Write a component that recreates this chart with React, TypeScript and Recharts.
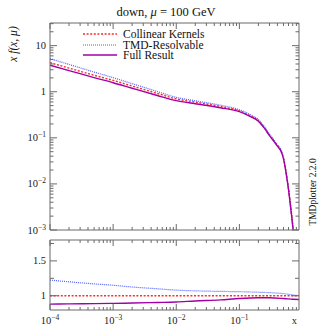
import React from "react";
import { LineChart, Line, XAxis, YAxis, Legend } from "recharts";

// x grid for the main panel
const X_GRID = [
  1e-4, 2e-4, 5e-4, 1e-3, 2e-3, 5e-3, 1e-2, 2e-2, 5e-2, 0.1, 0.15, 0.2, 0.25,
  0.3, 0.35, 0.4, 0.45, 0.5, 0.55, 0.6, 0.65, 0.7, 0.75,
];
const COLLINEAR = [
  4.26, 3.26, 2.28, 1.76, 1.33, 0.92, 0.7, 0.595, 0.48, 0.385, 0.3, 0.237,
  0.165, 0.115, 0.088, 0.068, 0.055, 0.036, 0.0177, 0.0079, 0.0032, 0.00127,
  0.00042,
];
const TMD_RESOLVABLE = [
  5.22, 3.91, 2.67, 2.02, 1.5, 1.01, 0.756, 0.637, 0.51, 0.407, 0.317, 0.249,
  0.173, 0.12, 0.0915, 0.0705, 0.0568, 0.0371, 0.0181, 0.0081, 0.00325,
  0.00128, 0.00042,
];
const FULL_RESULT = [
  3.75, 2.88, 2.02, 1.57, 1.19, 0.83, 0.64, 0.55, 0.45, 0.37, 0.29, 0.23, 0.16,
  0.112, 0.085, 0.066, 0.053, 0.035, 0.017, 0.0075, 0.003, 0.0012, 0.0004,
];

// ratio panel (relative to Collinear Kernels)
const RATIO_X = [
  1e-4, 2e-4, 5e-4, 1e-3, 2e-3, 5e-3, 1e-2, 2e-2, 5e-2, 0.1, 0.2, 0.3, 0.5,
  0.7, 0.88,
];
const RATIO_COLLINEAR = [1, 1, 1, 1, 1, 1, 1, 1, 1, 1, 1, 1, 1, 1, 1];
const RATIO_TMD = [
  1.225, 1.2, 1.17, 1.15, 1.125, 1.1, 1.08, 1.07, 1.062, 1.058, 1.05, 1.044,
  1.03, 1.012, 1.0,
];
const RATIO_FULL = [
  0.88, 0.883, 0.886, 0.89, 0.895, 0.903, 0.91, 0.925, 0.94, 0.96, 0.97, 0.97,
  0.96, 0.95, 0.945,
];

const X_MAJOR = [1e-4, 1e-3, 1e-2, 1e-1];
const RATIO_Y_MAJOR = [1, 1.5];
const RATIO_Y_MINOR = [1.25, 1.75];

const SERIES = [
  { key: "coll", name: "Collinear Kernels", color: "#ff2a2a", dash: "2 1.6", width: 1.4 },
  { key: "tmd", name: "TMD-Resolvable", color: "#5060ff", dash: "1 1", width: 1.2 },
  { key: "full", name: "Full Result", color: "#a000a8", dash: undefined, width: 1.4 },
];

const FONT = "'Liberation Serif', 'DejaVu Serif', serif";
const FRAME = "#6a6a6a";

const X_DOMAIN = [1e-4, 0.88];
const Y_DOMAIN = [1e-3, 31];
const RATIO_DOMAIN = [0.795, 1.8];

// plot box
const LEFT = 50;
const RIGHT = 299;
const MAIN_TOP = 23;
const MAIN_BOTTOM = 230;
const MAIN_H = 236;
const RATIO_TOP = 4;
const RATIO_BOTTOM = 74;
const RATIO_H = 90;

function minorTicks(from: number, to: number, max: number) {
  const out: number[] = [];
  for (let e = from; e <= to; e++) {
    for (let d = 1; d <= 9; d++) {
      const v = d * Math.pow(10, e);
      if (v <= max * 1.0001) out.push(v);
    }
  }
  return out;
}

const X_TICKS = minorTicks(-4, -1, X_DOMAIN[1]);
const Y_TICKS = minorTicks(-3, 1, Y_DOMAIN[1]);

function isDecade(v: number) {
  const l = Math.log10(v);
  return Math.abs(l - Math.round(l)) < 1e-6;
}

function PowLabel({ v, x, y, anchor }: { v: number; x: number; y: number; anchor: string }) {
  const e = Math.round(Math.log10(v));
  if (e === 0 || e === 1)
    return (
      <text x={x} y={y} textAnchor={anchor} fontSize={10.5} fontFamily={FONT} fill="#222">
        {e === 0 ? "1" : "10"}
      </text>
    );
  return (
    <text x={x} y={y} textAnchor={anchor} fontSize={10.5} fontFamily={FONT} fill="#222">
      10
      <tspan dy={-4} fontSize={7.5}>
        {"\u2212" + Math.abs(e)}
      </tspan>
    </text>
  );
}

// eslint-disable-next-line @typescript-eslint/no-explicit-any
function XTick(props: any) {
  const { x, payload, y0, dir, withLabel } = props;
  const major = isDecade(payload.value) && X_MAJOR.includes(payload.value);
  const len = major ? 6 : 3;
  return (
    <g>
      <line x1={x} x2={x} y1={y0} y2={y0 + dir * len} stroke={FRAME} strokeWidth={1} />
      {withLabel && major && <PowLabel v={payload.value} x={x} y={y0 + 14} anchor="middle" />}
    </g>
  );
}

// eslint-disable-next-line @typescript-eslint/no-explicit-any
function YLogTick(props: any) {
  const { y, payload, x0, dir, withLabel } = props;
  const major = isDecade(payload.value);
  const len = major ? 7 : 3.5;
  return (
    <g>
      <line x1={x0} x2={x0 + dir * len} y1={y} y2={y} stroke={FRAME} strokeWidth={1} />
      {withLabel && major && <PowLabel v={payload.value} x={x0 - 4} y={y + 3.5} anchor="end" />}
    </g>
  );
}

// eslint-disable-next-line @typescript-eslint/no-explicit-any
function YRatioTick(props: any) {
  const { y, payload, x0, dir, withLabel } = props;
  const major = RATIO_Y_MAJOR.includes(payload.value);
  const len = major ? 7 : 4;
  return (
    <g>
      <line x1={x0} x2={x0 + dir * len} y1={y} y2={y} stroke={FRAME} strokeWidth={1} />
      {withLabel && major && (
        <text x={x0 - 4} y={y + 3.5} textAnchor="end" fontSize={10.5} fontFamily={FONT} fill="#222">
          {String(payload.value)}
        </text>
      )}
    </g>
  );
}

function LegendBox() {
  return (
    <div style={{ fontFamily: FONT, fontSize: 11.5, color: "#111", lineHeight: "10.6px" }}>
      {SERIES.map((s) => (
        <div key={s.key} style={{ display: "flex", alignItems: "center", height: 10.6 }}>
          <svg width={40} height={10} style={{ flex: "none" }}>
            <line
              x1={0}
              x2={34}
              y1={5}
              y2={5}
              stroke={s.color}
              strokeWidth={s.width}
              strokeDasharray={s.dash}
            />
          </svg>
          <span>{s.name}</span>
        </div>
      ))}
    </div>
  );
}

// axes are 1px thick so that Recharts draws them; margins are shrunk by that 1px
function axisProps() {
  return {
    axisLine: { stroke: FRAME },
    tickLine: false,
    interval: 0 as const,
    allowDataOverflow: true,
  };
}

export default function App() {
  const mainData = X_GRID.map((x, i) => ({
    x,
    coll: COLLINEAR[i],
    tmd: TMD_RESOLVABLE[i],
    full: FULL_RESULT[i],
  }));
  const ratioData = RATIO_X.map((x, i) => ({
    x,
    coll: RATIO_COLLINEAR[i],
    tmd: RATIO_TMD[i],
    full: RATIO_FULL[i],
  }));

  const mainMargin = {
    top: MAIN_TOP - 1,
    right: 333 - RIGHT - 1,
    bottom: MAIN_H - MAIN_BOTTOM - 1,
    left: LEFT - 1,
  };
  const ratioMargin = {
    top: RATIO_TOP - 1,
    right: 333 - RIGHT - 1,
    bottom: RATIO_H - RATIO_BOTTOM - 1,
    left: LEFT - 1,
  };

  return (
    <div style={{ position: "absolute", left: 0, top: 0, width: 333, height: 326, background: "#fff" }}>
      <div style={{ position: "absolute", left: 0, top: 0 }}>
        <LineChart width={333} height={MAIN_H} data={mainData} margin={mainMargin}>
          <XAxis
            {...axisProps()}
            dataKey="x"
            type="number"
            scale="log"
            domain={X_DOMAIN}
            ticks={X_TICKS}
            height={1}
            tick={<XTick y0={MAIN_BOTTOM} dir={-1} withLabel={false} />}
          />
          <XAxis
            {...axisProps()}
            xAxisId="top"
            orientation="top"
            dataKey="x"
            type="number"
            scale="log"
            domain={X_DOMAIN}
            ticks={X_TICKS}
            height={1}
            tick={<XTick y0={MAIN_TOP} dir={1} withLabel={false} />}
          />
          <YAxis
            {...axisProps()}
            type="number"
            scale="log"
            domain={Y_DOMAIN}
            ticks={Y_TICKS}
            width={1}
            tick={<YLogTick x0={LEFT} dir={1} withLabel />}
          />
          <YAxis
            {...axisProps()}
            yAxisId="right"
            orientation="right"
            type="number"
            scale="log"
            domain={Y_DOMAIN}
            ticks={Y_TICKS}
            width={1}
            tick={<YLogTick x0={RIGHT} dir={-1} withLabel={false} />}
          />
          <Legend
            layout="horizontal"
            verticalAlign="middle"
            align="center"
            content={<LegendBox />}
            wrapperStyle={{ top: 29, left: 83, width: 160 }}
          />
          {SERIES.map((s) => (
            <Line
              key={s.key}
              dataKey={s.key}
              name={s.name}
              type="monotone"
              stroke={s.color}
              strokeWidth={s.width}
              strokeDasharray={s.dash}
              dot={false}
              activeDot={false}
              isAnimationActive={false}
            />
          ))}
        </LineChart>
      </div>
      <div style={{ position: "absolute", left: 0, top: MAIN_H }}>
        <LineChart width={333} height={RATIO_H} data={ratioData} margin={ratioMargin}>
          <XAxis
            {...axisProps()}
            dataKey="x"
            type="number"
            scale="log"
            domain={X_DOMAIN}
            ticks={X_TICKS}
            height={1}
            tick={<XTick y0={RATIO_BOTTOM} dir={-1} withLabel />}
          />
          <XAxis
            {...axisProps()}
            xAxisId="top"
            orientation="top"
            dataKey="x"
            type="number"
            scale="log"
            domain={X_DOMAIN}
            ticks={X_TICKS}
            height={1}
            tick={<XTick y0={RATIO_TOP} dir={1} withLabel={false} />}
          />
          <YAxis
            {...axisProps()}
            type="number"
            domain={RATIO_DOMAIN}
            ticks={[...RATIO_Y_MAJOR, ...RATIO_Y_MINOR]}
            width={1}
            tick={<YRatioTick x0={LEFT} dir={1} withLabel />}
          />
          <YAxis
            {...axisProps()}
            yAxisId="right"
            orientation="right"
            type="number"
            domain={RATIO_DOMAIN}
            ticks={[...RATIO_Y_MAJOR, ...RATIO_Y_MINOR]}
            width={1}
            tick={<YRatioTick x0={RIGHT} dir={-1} withLabel={false} />}
          />
          {SERIES.map((s) => (
            <Line
              key={s.key}
              dataKey={s.key}
              name={s.name}
              type="monotone"
              stroke={s.color}
              strokeWidth={s.width}
              strokeDasharray={s.dash}
              dot={false}
              activeDot={false}
              isAnimationActive={false}
            />
          ))}
        </LineChart>
      </div>
      <svg
        width={333}
        height={326}
        style={{ position: "absolute", left: 0, top: 0, pointerEvents: "none" }}
      >
        <text x={166} y={16} textAnchor="middle" fontSize={12.5} fontFamily={FONT} fill="#111">
          down, <tspan fontStyle="italic">μ</tspan> = 100 GeV
        </text>
        <text
          x={0}
          y={0}
          transform="translate(17,44) rotate(-90)"
          textAnchor="middle"
          fontSize={11.5}
          fontFamily={FONT}
          fontStyle="italic"
          fill="#111"
        >
          x f(x, μ)
        </text>
        <text
          x={0}
          y={0}
          transform="translate(316,192) rotate(-90)"
          textAnchor="middle"
          fontSize={9.5}
          fontFamily={FONT}
          fill="#111"
        >
          TMDplotter 2.2.0
        </text>
        <text x={297} y={MAIN_H + RATIO_BOTTOM + 14} textAnchor="end" fontSize={10.5} fontFamily={FONT} fill="#222">
          x
        </text>
      </svg>
    </div>
  );
}
